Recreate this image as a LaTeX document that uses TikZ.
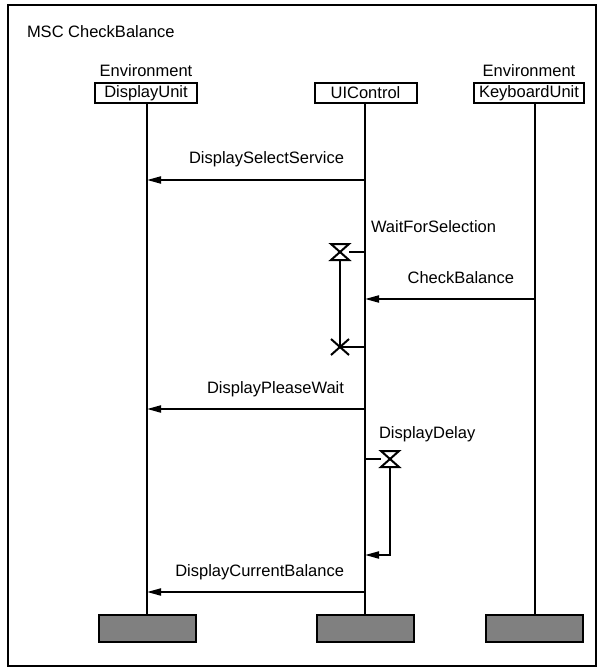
\documentclass[tikz,border=0pt]{standalone}
\usepackage{fontspec}
\setmainfont{Liberation Sans}
\usetikzlibrary{positioning, arrows.meta}
\tikzset{
  every node/.style = {font = \fontsize{8.25}{9.9}\selectfont},
  > = {Triangle[length = 7pt, width = 3.5pt]},
  instance/.style = {draw, inner xsep = 2.5pt, inner ysep = 0pt,
    minimum width = 51pt, minimum height = 10pt},
  envlabel/.style = {inner sep = 0pt},
  endbox/.style = {draw, fill = black!50, minimum width = 48.5pt,
    minimum height = 13.5pt},
  msg/.style = {->},
  msgtext/.style = {anchor = base east, inner sep = 0pt,
    xshift = -10pt, yshift = 8pt},
  timertext/.style = {anchor = base west, inner sep = 0pt},
  timer/.style = {inner sep = 0pt, minimum width = 8pt, minimum height = 7pt}
}

\begin{document}
\begin{tikzpicture}[x = 0.5pt, y = -0.5pt, line width = 1pt]
\useasboundingbox (0,0) rectangle (597,668);

% frame and title
\draw[line width = 0.9pt] (8,5) rectangle (596,666);
\node[anchor = base west, inner sep = 0pt] (title) at (26,38) {MSC CheckBalance};

% lifeline positions
\coordinate (dspL) at (147,0);
\coordinate (uicL) at (365,0);
\coordinate (kbdL) at (535,0);

% instance heads
\node[instance] (dsp) at (146,93) {DisplayUnit};
\node[instance] (uic) at (365.5,93) {UIControl};
\node[instance] (kbd) at (529,93) {KeyboardUnit};
\node[envlabel, above = 2pt of dsp] (dspEnv) {Environment};
\node[envlabel, above = 2pt of kbd] (kbdEnv) {Environment};

% instance ends
\node[endbox] (dspEnd) at (147,628.5) {};
\node[endbox] (uicEnd) at (365,628.5) {};
\node[endbox] (kbdEnd) at (534,628.5) {};

% lifelines
\draw (dsp.south -| dspL) -- (dspEnd.north -| dspL);
\draw (uic.south -| uicL) -- (uicEnd.north -| uicL);
\draw (kbd.south -| kbdL) -- (kbdEnd.north -| kbdL);

% messages
\draw[msg] (uicL |- 0,180) -- node[msgtext, at start] {DisplaySelectService} (dspL |- 0,180);
\draw[msg] (kbdL |- 0,299) -- node[msgtext, at start] {CheckBalance} (uicL |- 0,299);
\draw[msg] (uicL |- 0,409) -- node[msgtext, at start] {DisplayPleaseWait} (dspL |- 0,409);
\draw[msg] (uicL |- 0,592) -- node[msgtext, at start] {DisplayCurrentBalance} (dspL |- 0,592);

% timer WaitForSelection, set and stopped
\node[timertext] (wfsText) at (370,232) {WaitForSelection};
\node[timer] (wfs) at (340,252) {};
\node[timer] (wfsStop) at (340,347) {};
\draw (uicL |- wfs) -- (wfs.east);
\draw (wfs.north west) -- (wfs.north east) -- (wfs.south west) -- (wfs.south east) -- cycle;
\draw (wfs.south) -- (wfsStop.center);
\draw (wfsStop.north west) -- (wfsStop.south east)
      (wfsStop.south west) -- (wfsStop.north east);
\draw (wfsStop.center) -- (uicL |- wfsStop);

% timer DisplayDelay, set and timed out
\node[timertext] (ddText) at (378,438) {DisplayDelay};
\node[timer] (dd) at (390,459) {};
\draw (uicL |- dd) -- (dd.west);
\draw (dd.north west) -- (dd.north east) -- (dd.south west) -- (dd.south east) -- cycle;
\draw[msg] (dd.south) |- (uicL |- 0,555);

\end{tikzpicture}
\end{document}
